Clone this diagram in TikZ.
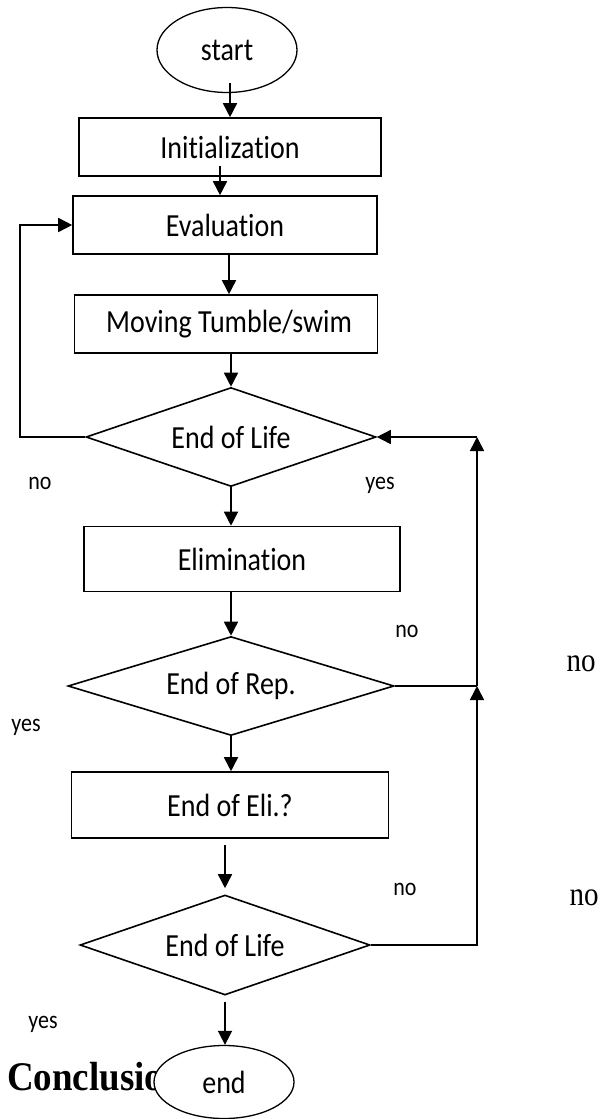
\documentclass[tikz,border=0pt]{standalone}
\usepackage{fontspec}
\setmainfont{Carlito}[Ligatures=CommonOff]
\newfontfamily\timesfont{Liberation Serif}
\usepackage{tikz}
\usetikzlibrary{shapes.geometric,arrows.meta,positioning}
\newcommand{\tallt}[1]{\scalebox{1}[1.15]{#1}}

\begin{document}
\begin{tikzpicture}[x=1pt,y=-1pt]
  \tikzset{
    term/.style={draw, ellipse, fill=white, line width=1.3pt, minimum width=140pt, inner sep=0pt, font=\fontsize{28}{30}\selectfont},
    proc/.style={draw, rectangle, line width=1.6pt, inner sep=0pt, font=\fontsize{28}{30}\selectfont},
    dec/.style={draw, diamond, aspect=3, line width=1.6pt, minimum height=99pt, inner sep=0pt, font=\fontsize{28}{30}\selectfont},
    flow/.style={-{Triangle[length=14pt,width=14pt]}, line width=1.6pt},
    wire/.style={line width=1.6pt},
    lbl/.style={inner sep=0pt, font=\fontsize{22}{24}\selectfont},
    lblserif/.style={inner sep=0pt, font=\timesfont\fontsize{29}{31}\selectfont}
  }
  \useasboundingbox (0,0) rectangle (612,1119);

  % main column
  \node[term, minimum height=85pt] (start) at (227,50) {\tallt{start}};
  \node[proc, minimum width=302pt, minimum height=58pt] (init) at (230,147) {\tallt{Initialization}};
  \node[proc, minimum width=304pt, minimum height=58pt] (eval) at (225,225) {\tallt{Evaluation}};
  \node[proc, minimum width=303pt, minimum height=58pt] (move) at (226,324) {\tallt{~Moving Tumble/swim}};
  \node[dec, minimum width=290pt] (life) at (231,437) {\tallt{End of Life}};
  \node[proc, minimum width=316pt, minimum height=65pt] (elim) at (242,559) {\tallt{Elimination}};
  \node[dec, minimum width=326pt] (rep) at (231,686) {\tallt{End of Rep.}};
  \node[proc, minimum width=317pt, minimum height=66pt] (eli) at (230,805) {\tallt{End of Eli.?}};
  \node[dec, minimum width=290pt, minimum height=100pt] (lifeb) at (225,945) {\tallt{End of Life}};

  % heading behind the end node
  \node[anchor=base west, inner sep=0pt, font=\timesfont\bfseries\fontsize{37}{40}\selectfont] (concl) at (7,1090) {\scalebox{1}[1.1]{Conclusio}};
  \node[term, minimum height=73pt] (stop) at (224,1082) {\tallt{end}};

  % turning points of the loops
  \coordinate (loopL) at (20,0);
  \coordinate (loopR) at (477,0);

  % downward flow
  \draw[flow, shorten <=-10pt] (start.south -| init.north) -- (init.north);
  \draw[flow, shorten <=-11pt] ([xshift=-5pt]init.south -| eval.north) -- ([xshift=-5pt]eval.north);
  \draw[flow] ([xshift=3pt]eval.south -| move.north) -- ([xshift=3pt]move.north);
  \draw[flow] (move.south -| life.north) -- (life.north);
  \draw[flow] (life.south) -- (life.south |- elim.north);
  \draw[flow] (elim.south -| rep.north) -- (rep.north);
  \draw[flow] (rep.south) -- (rep.south |- eli.north);
  \draw[flow, shorten <=6pt, shorten >=6pt] (eli.south -| lifeb.north) -- (lifeb.north);
  \draw[flow, shorten <=6pt] (lifeb.south) -- (lifeb.south |- stop.north);

  % loop back to evaluation
  \draw[flow] (life.west) -- (life.west -| loopL) |- (eval.west);

  % loops back on the right
  \draw[wire] (rep.east) -- (rep.east -| loopR);
  \draw[flow] (lifeb.east) -- (lifeb.east -| loopR) -- (rep.east -| loopR);
  \draw[flow] (rep.east -| loopR) -- (life.east -| loopR);
  \draw[flow] (life.east -| loopR) -- (life.east);

  % branch labels
  \node[lbl] (noA) at (40,483) {\tallt{no}};
  \node[lbl] (yesA) at (380,485) {\tallt{yes}};
  \node[lbl] (noB) at (407,631) {\tallt{no}};
  \node[lblserif] (noC) at (581,664) {\tallt{no}};
  \node[lbl] (yesB) at (26,727) {\tallt{yes}};
  \node[lbl] (noD) at (405,889) {\tallt{no}};
  \node[lblserif] (noE) at (584,898) {\tallt{no}};
  \node[lbl] (yesC) at (43,1024) {\tallt{yes}};
\end{tikzpicture}
\end{document}
